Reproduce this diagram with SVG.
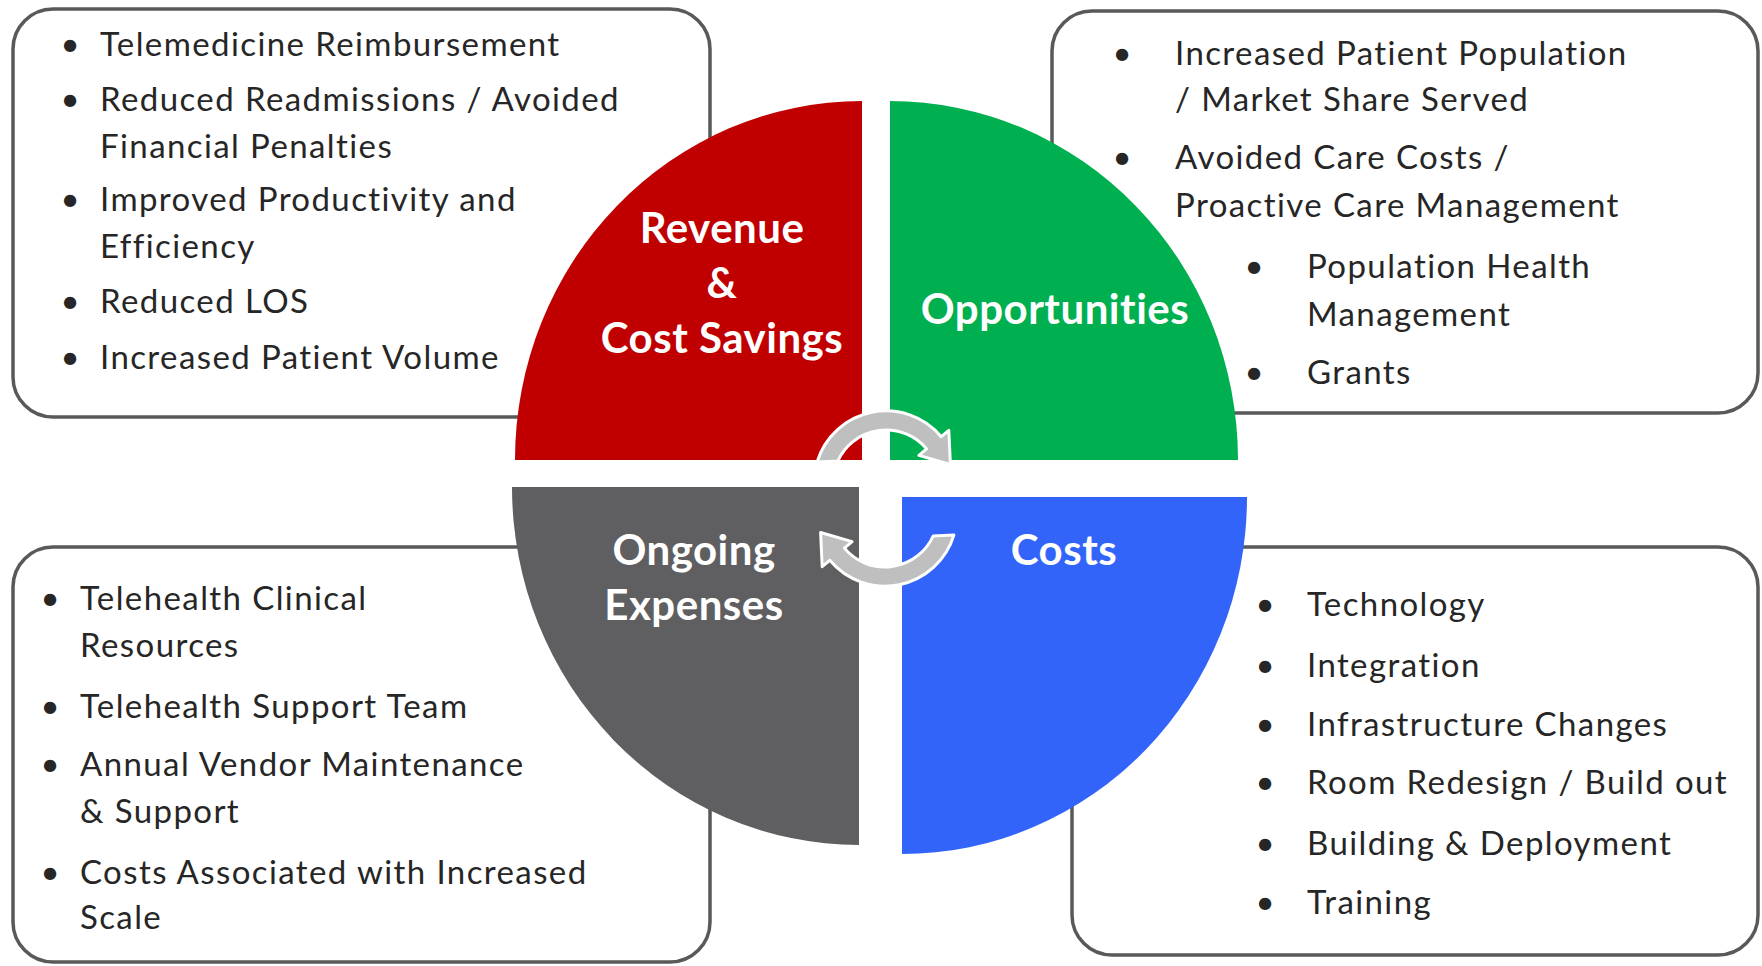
<svg xmlns="http://www.w3.org/2000/svg" width="1762" height="966" viewBox="0 0 1762 966">
<style>
.box{fill:#ffffff;stroke:#595959;stroke-width:3.5}
.t{font-family:Lato,"Open Sans","Liberation Sans",sans-serif;font-size:33px;fill:#262626;letter-spacing:1.4px}
.b{font-family:Lato,"Open Sans","Liberation Sans",sans-serif;font-size:33px;fill:#262626;text-anchor:middle}
.q{font-family:Lato,"Open Sans","Liberation Sans",sans-serif;font-size:42px;font-weight:bold;fill:#ffffff;text-anchor:middle;letter-spacing:0.5px}
.arr{fill:#bfbfbf;stroke:#ffffff;stroke-width:3;stroke-linejoin:round}
</style>
<rect width="1762" height="966" fill="#ffffff"/>

<g id="box-revenue-list">
<rect class="box" x="13" y="9" width="697" height="408" rx="40"/>
<text class="b" x="70" y="56">•</text><text class="t" x="100" y="56">Telemedicine Reimbursement</text>
<text class="b" x="70" y="111">•</text><text class="t" x="100" y="111">Reduced Readmissions / Avoided</text>
<text class="t" x="100" y="158">Financial Penalties</text>
<text class="b" x="70" y="211">•</text><text class="t" x="100" y="211">Improved Productivity and</text>
<text class="t" x="100" y="258">Efficiency</text>
<text class="b" x="70" y="313">•</text><text class="t" x="100" y="313">Reduced LOS</text>
<text class="b" x="70" y="369">•</text><text class="t" x="100" y="369">Increased Patient Volume</text>
</g>

<g id="box-opportunities-list">
<rect class="box" x="1052" y="11" width="706" height="402" rx="40"/>
<text class="b" x="1122" y="65">•</text><text class="t" x="1175" y="65">Increased Patient Population</text>
<text class="t" x="1175" y="111">/ Market Share Served</text>
<text class="b" x="1122" y="169">•</text><text class="t" x="1175" y="169">Avoided Care Costs /</text>
<text class="t" x="1175" y="217">Proactive Care Management</text>
<text class="b" x="1254" y="278">•</text><text class="t" x="1307" y="278">Population Health</text>
<text class="t" x="1307" y="326">Management</text>
<text class="b" x="1254" y="384">•</text><text class="t" x="1307" y="384">Grants</text>
</g>

<g id="box-ongoing-list">
<rect class="box" x="13" y="547" width="697" height="415" rx="40"/>
<text class="b" x="50" y="610">•</text><text class="t" x="80" y="610">Telehealth Clinical</text>
<text class="t" x="80" y="657">Resources</text>
<text class="b" x="50" y="718">•</text><text class="t" x="80" y="718">Telehealth Support Team</text>
<text class="b" x="50" y="776">•</text><text class="t" x="80" y="776">Annual Vendor Maintenance</text>
<text class="t" x="80" y="823">&amp; Support</text>
<text class="b" x="50" y="884">•</text><text class="t" x="80" y="884">Costs Associated with Increased</text>
<text class="t" x="80" y="929">Scale</text>
</g>

<g id="box-costs-list">
<rect class="box" x="1072" y="547" width="686" height="408" rx="40"/>
<text class="b" x="1265" y="616">•</text><text class="t" x="1307" y="616">Technology</text>
<text class="b" x="1265" y="677">•</text><text class="t" x="1307" y="677">Integration</text>
<text class="b" x="1265" y="736">•</text><text class="t" x="1307" y="736">Infrastructure Changes</text>
<text class="b" x="1265" y="794">•</text><text class="t" x="1307" y="794">Room Redesign / Build out</text>
<text class="b" x="1265" y="855">•</text><text class="t" x="1307" y="855">Building &amp; Deployment</text>
<text class="b" x="1265" y="914">•</text><text class="t" x="1307" y="914">Training</text>
</g>

<g id="quad-revenue">
<path d="M862,460 L515,460 A347,359 0 0 1 862,101 Z" fill="#c00000"/>
<text class="q" x="722" y="243">Revenue</text>
<text class="q" x="722" y="298">&amp;</text>
<text class="q" x="722" y="353">Cost Savings</text>
</g>

<g id="quad-opportunities">
<path d="M890,460 L890,101 A348,359 0 0 1 1238,460 Z" fill="#00b050"/>
<text class="q" x="1055" y="324">Opportunities</text>
</g>

<g id="quad-ongoing">
<path d="M859,487 L859,845 A347,358 0 0 1 512,487 Z" fill="#5f5f62"/>
<text class="q" x="694" y="565">Ongoing</text>
<text class="q" x="694" y="620">Expenses</text>
</g>

<g id="quad-costs">
<path d="M902,497 L1247,497 A345,357 0 0 1 902,854 Z" fill="#3264fa"/>
<text class="q" x="1064" y="565">Costs</text>
</g>

<g id="connectors">
<path class="arr" d="M817.1,461.9 A72,72 0 0 1 941.2,436.7 L948.8,430.3 L950.4,464.5 L918.9,455.4 L926.6,448.9 A53,53 0 0 0 837.8,461 Z"/>
<path class="arr" d="M953.9,535.1 A72,72 0 0 1 829.8,560.3 L822.2,566.7 L820.6,532.5 L852.1,541.6 L844.4,548.1 A53,53 0 0 0 933.2,536 Z"/>
</g>
</svg>
